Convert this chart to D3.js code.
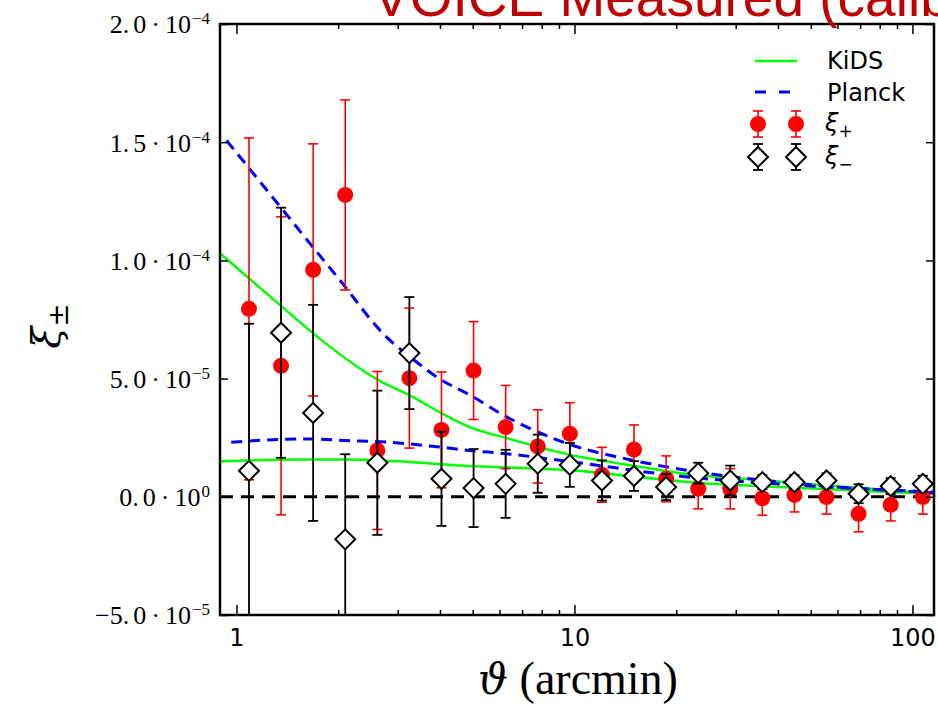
<!DOCTYPE html>
<html><head><meta charset="utf-8">
<script src="https://cdn.jsdelivr.net/npm/d3@7"></script>
<style>body{margin:0;background:#fff;overflow:hidden} svg{display:block}</style>
</head><body>
<svg id="c" width="938" height="708"></svg>
<script>
// ---- data (values in units of 1e-5) ----
const theta = [1.089,1.355,1.686,2.098,2.611,3.248,4.042,5.030,6.258,7.787,9.690,12.06,15.00,18.67,23.23,28.90,35.96,44.75,55.68,69.28,86.21,107.3];
const xiPlus = [7.95,5.54,9.60,12.77,1.96,5.02,2.83,5.34,2.95,2.13,2.67,0.93,2.00,0.76,0.34,0.34,-0.06,0.08,-0.01,-0.72,-0.34,-0.01];
const xiPlusErr = [7.23,6.30,5.33,4.02,3.34,2.96,2.45,2.07,1.76,1.55,1.31,1.16,1.04,0.97,0.85,0.85,0.72,0.72,0.72,0.76,0.68,0.72];
const xiMinus = [1.10,6.94,3.55,-1.80,1.44,6.08,0.76,0.37,0.55,1.40,1.35,0.69,0.88,0.41,1.00,0.69,0.62,0.62,0.69,0.13,0.45,0.55];
const xiMinusErr = [6.22,5.29,4.57,3.60,3.05,2.37,1.99,1.65,1.44,1.23,0.93,0.85,0.63,0.55,0.44,0.63,0.30,0.30,0.30,0.40,0.34,0.34];

const kidsPlusTheta = [0.894,1.0,1.3,1.766,2.59,3.33,3.99,4.9,6.3,9.9,14,21.9,30,45,70,115.8];
const kidsPlus      = [10.3,9.7,8.3,6.68,4.99,4.22,3.58,2.95,2.48,1.75,1.38,0.95,0.79,0.58,0.37,0.13];
const kidsMinusTheta = [0.894,1.5,2.1,3.0,4.9,7.0,10,15,21.9,30,45,70,115.8];
const kidsMinus      = [1.50,1.58,1.58,1.50,1.30,1.22,1.11,0.85,0.62,0.50,0.38,0.26,0.12];
const planckPlusTheta = [0.935,1.174,1.541,2.024,2.718,3.41,3.99,4.9,6.3,9.9,14.6,21.9,46.4,115.8];
const planckPlus      = [15.07,13.33,11.24,9.16,6.90,5.70,4.99,4.31,3.38,2.17,1.57,1.10,0.55,0.17];
const planckMinusTheta = [0.965,1.6,2.1,2.8,3.9,4.9,6.3,9.9,21.9,45,115.8];
const planckMinus      = [2.31,2.45,2.38,2.31,2.12,1.96,1.82,1.47,0.83,0.50,0.20];

const xMajor = [1,10,100];
const xMinor = [2,3,4,5,6,7,8,9,20,30,40,50,60,70,80,90];
const yTicks = [-5e-5,0,5e-5,1e-4,1.5e-4,2e-4];
const yInt  = ["\u22125.","0.","5.","1.","1.","2."];
const yDec  = ["0","0","0","0","5","0"];
const yExp  = ["\u22125","0","\u22125","\u22124","\u22124","\u22124"];

// ---- layout ----
const L=220,R=934,T=24,B=615;
const x=d3.scaleLog().domain([0.894,115.8]).range([L,R]);
const y=d3.scaleLinear().domain([-5e-5,2e-4]).range([B,T]);
const s=1e-5;
const svg=d3.select('#c');

svg.append('defs').append('clipPath').attr('id','clip')
  .append('rect').attr('x',L).attr('y',T).attr('width',R-L).attr('height',B-T);
const plot=svg.append('g').attr('clip-path','url(#clip)');

// zero line
plot.append('line').attr('x1',x(x.domain()[0])).attr('x2',x(x.domain()[1]))
  .attr('y1',y(0)).attr('y2',y(0)).attr('stroke','#000').attr('stroke-width',3)
  .attr('stroke-dasharray','13,8');

const line=d3.line().x(d=>x(d[0])).y(d=>y(d[1]*s)).curve(d3.curveMonotoneX);
function curve(th,v,color,dash,w){
  plot.append('path').datum(th.map((t,i)=>[t,v[i]])).attr('d',line)
    .attr('fill','none').attr('stroke',color).attr('stroke-width',w)
    .attr('stroke-dasharray',dash);
}
curve(kidsPlusTheta,kidsPlus,'#00ff00',null,2.5);
curve(kidsMinusTheta,kidsMinus,'#00ff00',null,2.5);
curve(planckPlusTheta,planckPlus,'#0000ff','11,7',3);
curve(planckMinusTheta,planckMinus,'#0000ff','11,7',3);

function errbars(vals,errs,color,w){
  const g=plot.append('g').attr('stroke',color).attr('stroke-width',w);
  theta.forEach((t,i)=>{
    const cx=x(t), y1=y((vals[i]+errs[i])*s), y2=y((vals[i]-errs[i])*s);
    g.append('line').attr('x1',cx).attr('x2',cx).attr('y1',y1).attr('y2',y2);
    g.append('line').attr('x1',cx-5).attr('x2',cx+5).attr('y1',y1).attr('y2',y1);
    g.append('line').attr('x1',cx-5).attr('x2',cx+5).attr('y1',y2).attr('y2',y2);
  });
}
errbars(xiPlus,xiPlusErr,'#ff0000',1.6);
plot.append('g').selectAll('circle').data(theta).join('circle')
  .attr('cx',d=>x(d)).attr('cy',(d,i)=>y(xiPlus[i]*s)).attr('r',8).attr('fill','#ff0000');
errbars(xiMinus,xiMinusErr,'#000',1.8);
const diamond=d3.symbol().type(d3.symbolSquare).size(200)();
plot.append('g').selectAll('path').data(theta).join('path')
  .attr('d',diamond)
  .attr('transform',(d,i)=>`translate(${x(d)},${y(xiMinus[i]*s)}) rotate(45)`)
  .attr('fill','#fff').attr('stroke','#000').attr('stroke-width',2);

// ---- axes ----
function styleAxis(g){ g.select('.domain').remove(); g.selectAll('line').attr('stroke','#000').attr('stroke-width',1.5); }
svg.append('g').attr('transform',`translate(0,${B})`)
  .call(d3.axisBottom(x).tickValues(xMajor).tickSizeInner(-10).tickSizeOuter(0).tickPadding(14).tickFormat(d3.format('d')))
  .call(styleAxis)
  .call(g=>g.selectAll('text').attr('font-family','DejaVu Sans').attr('font-size',24).attr('fill','#000'));
svg.append('g').attr('transform',`translate(0,${B})`)
  .call(d3.axisBottom(x).tickValues(xMinor).tickSizeInner(-5).tickSizeOuter(0).tickFormat(''))
  .call(styleAxis);
svg.append('g').attr('transform',`translate(0,${T})`)
  .call(d3.axisTop(x).tickValues(xMajor).tickSizeInner(-10).tickSizeOuter(0).tickFormat(''))
  .call(styleAxis);
svg.append('g').attr('transform',`translate(0,${T})`)
  .call(d3.axisTop(x).tickValues(xMinor).tickSizeInner(-5).tickSizeOuter(0).tickFormat(''))
  .call(styleAxis);
const ya=svg.append('g').attr('transform',`translate(${L},0)`)
  .call(d3.axisLeft(y).tickValues(yTicks).tickSizeInner(-8).tickSizeOuter(0).tickPadding(10).tickFormat(''))
  .call(styleAxis);
ya.selectAll('.tick text').each(function(d,i){
  const t=d3.select(this).attr('font-family','Liberation Serif').attr('font-size',26).attr('fill','#000').attr('dy','0.34em');
  t.append('tspan').text(yInt[i]);
  t.append('tspan').attr('dx',4).text(yDec[i]);
  t.append('tspan').attr('dx',5).text('\u00b7');
  t.append('tspan').attr('dx',5).text('10');
  t.append('tspan').attr('dy',-9).attr('dx',1).attr('font-size',17).text(yExp[i]);
});
svg.append('g').attr('transform',`translate(${R},0)`)
  .call(d3.axisRight(y).tickValues(yTicks).tickSizeInner(-8).tickSizeOuter(0).tickFormat(''))
  .call(styleAxis);

// frame
svg.append('rect').attr('x',L).attr('y',T).attr('width',R-L).attr('height',B-T)
  .attr('fill','none').attr('stroke','#000').attr('stroke-width',2.5);

// ---- labels ----
svg.append('text').attr('x',373).attr('y',16).attr('font-family','Liberation Sans')
  .attr('font-size',55).attr('fill','#c00000').text('VOICE Measured (calibrated)');

const xl=svg.append('text').attr('x',(L+R)/2+1).attr('y',694).attr('text-anchor','middle')
  .attr('font-family','Liberation Serif').attr('font-size',46).attr('fill','#000');
xl.append('tspan').attr('font-style','italic').attr('font-family','DejaVu Serif').attr('font-size',42).text('\u03d1');
xl.append('tspan').text(' (arcmin)');

const yl=svg.append('text').attr('transform','translate(60,326) rotate(-90)').attr('text-anchor','middle')
  .attr('font-family','DejaVu Serif').attr('font-size',40).attr('fill','#000');
yl.append('tspan').attr('font-style','italic').text('\u03be');
yl.append('tspan').attr('dy',8).attr('font-size',28).text('\u00b1');

// ---- legend ----
const lg=svg.append('g');
const lx1=755,lx2=797,tx=827;
const rows=[61,92,124,157];
lg.append('line').attr('x1',lx1).attr('x2',lx2).attr('y1',rows[0]).attr('y2',rows[0]).attr('stroke','#00ff00').attr('stroke-width',2.5);
lg.append('line').attr('x1',lx1).attr('x2',lx2).attr('y1',rows[1]).attr('y2',rows[1]).attr('stroke','#0000ff').attr('stroke-width',3).attr('stroke-dasharray','11,13');
[758,796].forEach(mx=>{
  [[rows[2],'#ff0000',1.6],[rows[3],'#000',1.8]].forEach(([ry,c,w])=>{
    lg.append('line').attr('x1',mx).attr('x2',mx).attr('y1',ry-13).attr('y2',ry+13).attr('stroke',c).attr('stroke-width',w);
    lg.append('line').attr('x1',mx-5).attr('x2',mx+5).attr('y1',ry-13).attr('y2',ry-13).attr('stroke',c).attr('stroke-width',w);
    lg.append('line').attr('x1',mx-5).attr('x2',mx+5).attr('y1',ry+13).attr('y2',ry+13).attr('stroke',c).attr('stroke-width',w);
  });
  lg.append('circle').attr('cx',mx).attr('cy',rows[2]).attr('r',8).attr('fill','#ff0000');
  lg.append('path').attr('d',diamond).attr('transform',`translate(${mx},${rows[3]}) rotate(45)`).attr('fill','#fff').attr('stroke','#000').attr('stroke-width',2);
});
const ltxt=(yy,t)=>lg.append('text').attr('x',tx).attr('y',yy).attr('font-family','DejaVu Sans').attr('font-size',24).attr('fill','#000').text(t);
ltxt(rows[0]+8,'KiDS');
ltxt(rows[1]+9,'Planck');
[[rows[2],'+'],[rows[3],'\u2212']].forEach(([ry,sub])=>{
  const t=lg.append('text').attr('x',tx-2).attr('y',ry+7).attr('font-family','DejaVu Sans').attr('font-size',24).attr('fill','#000');
  t.append('tspan').attr('font-style','italic').text('\u03be');
  t.append('tspan').attr('dy',6).attr('font-size',17).text(sub);
});
</script>
</body></html>
